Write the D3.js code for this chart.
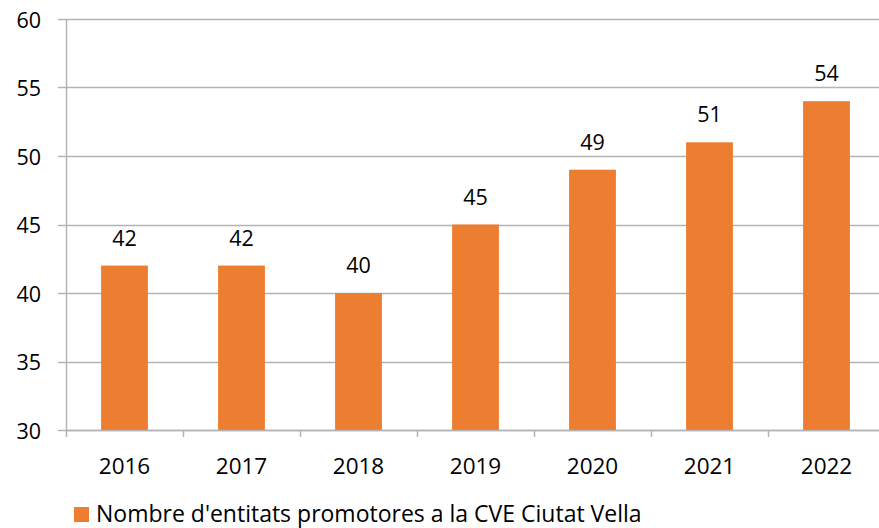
<!DOCTYPE html>
<html>
<head>
<meta charset="utf-8">
<script src="https://cdn.jsdelivr.net/npm/d3@7"></script>
<style>
  html, body { margin: 0; padding: 0; background: #fff; }
  svg { display: block; }
  text { font-family: "Open Sans", Lato, sans-serif; fill: #000; }
</style>
</head>
<body>
<script>
const years = ["2016", "2017", "2018", "2019", "2020", "2021", "2022"];
const values = [42, 42, 40, 45, 49, 51, 54];
const yTicks = [30, 35, 40, 45, 50, 55, 60];
const seriesName = "Nombre d'entitats promotores a la CVE Ciutat Vella";

const W = 879, H = 528;
const mLeft = 66, mRight = 885, mTop = 19, mBottom = 430;

const svg = d3.select("body").append("svg").attr("width", W).attr("height", H);

const x = d3.scaleBand().domain(years).range([mLeft, mRight]).padding(0);
const y = d3.scaleLinear().domain([30, 60]).range([mBottom, mTop]);

// gridlines
svg.append("g").selectAll("line").data(yTicks).join("line")
  .attr("x1", mLeft - 8).attr("x2", mRight)
  .attr("y1", d => Math.round(y(d)) + 0.5).attr("y2", d => Math.round(y(d)) + 0.5)
  .attr("stroke", "#b3b3b3").attr("stroke-width", 1.5);

// y tick labels
svg.append("g").selectAll("text").data(yTicks).join("text")
  .attr("x", mLeft - 25).attr("y", d => y(d))
  .attr("text-anchor", "end").attr("dominant-baseline", "central")
  .style("font-size", "21.5px").text(d => d);

// bars
const barW = x.step() * 0.4;
svg.append("g").selectAll("rect").data(values).join("rect")
  .attr("x", (d, i) => x(years[i]) + x.bandwidth() / 2 - barW / 2)
  .attr("width", barW)
  .attr("y", d => y(d))
  .attr("height", d => y(30) - y(d))
  .attr("fill", "#ED7D31");

// data labels
svg.append("g").selectAll("text").data(values).join("text")
  .attr("x", (d, i) => x(years[i]) + x.bandwidth() / 2)
  .attr("y", d => y(d) - 20)
  .attr("text-anchor", "middle")
  .style("font-size", "21.5px").text(d => d);

// y axis line
svg.append("line")
  .attr("x1", mLeft + 0.5).attr("x2", mLeft + 0.5)
  .attr("y1", mTop).attr("y2", mBottom)
  .attr("stroke", "#b3b3b3").attr("stroke-width", 1.5);

// x axis
const xAxis = svg.append("g");
xAxis.append("line")
  .attr("x1", mLeft).attr("x2", mRight)
  .attr("y1", Math.round(y(30)) + 0.5).attr("y2", Math.round(y(30)) + 0.5)
  .attr("stroke", "#b3b3b3").attr("stroke-width", 1.5);
const boundaries = years.map(d => x(d)).concat([mRight]);
xAxis.selectAll("line.tk").data(boundaries).join("line").attr("class", "tk")
  .attr("x1", d => Math.round(d) + 0.5).attr("x2", d => Math.round(d) + 0.5)
  .attr("y1", mBottom).attr("y2", mBottom + 7)
  .attr("stroke", "#b3b3b3").attr("stroke-width", 1.5);
xAxis.selectAll("text").data(years).join("text")
  .attr("x", d => x(d) + x.bandwidth() / 2)
  .attr("y", 474)
  .attr("text-anchor", "middle")
  .style("font-size", "22.5px").text(d => d);

// legend
const lg = svg.append("g");
lg.append("rect").attr("x", 74).attr("y", 507).attr("width", 15).attr("height", 15).attr("fill", "#ED7D31");
lg.append("text").attr("x", 96).attr("y", 522).style("font-size", "23px").text(seriesName);
</script>
</body>
</html>
